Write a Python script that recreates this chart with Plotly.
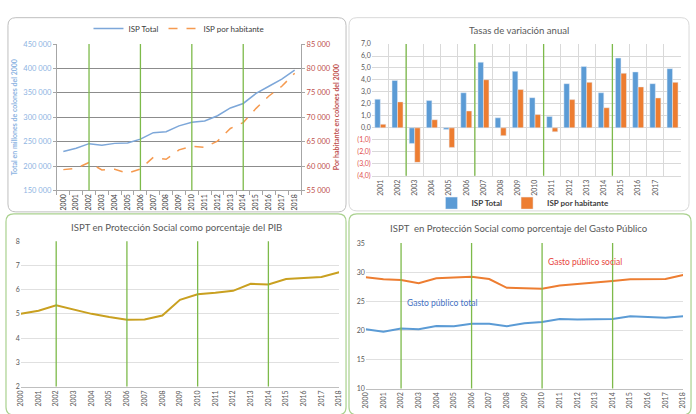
import plotly.graph_objects as go

W, H = 696, 414
FONT = "Lato"

years = list(range(2000, 2019))
isp_total = [229800, 236500, 245800, 242400, 246400, 247000, 255000, 268400, 270400,
             282300, 289600, 292300, 303000, 319000, 328200, 348800, 363500, 378100, 396700]
isp_hab = [59260, 59520, 60720, 59190, 59320, 58520, 59390, 61780, 61380, 63310,
           64040, 63840, 65100, 67700, 68900, 71820, 74350, 76350, 79000]

var_labels = ["2001", "2002", "2003", "2004", "2005", "2006", "2007", "2008", "2009",
              "2010", "2011", "2012", "2013", "2014", "2015", "2016", "2017", ""]
var_total = [2.39, 3.96, -1.30, 2.28, -0.14, 2.93, 5.48, 0.84, 4.72, 2.52, 0.95, 3.69,
             5.13, 2.93, 5.83, 4.67, 3.69, 4.94]
var_hab = [0.30, 2.17, -2.88, 0.68, -1.63, 1.41, 4.02, -0.65, 3.20, 1.11, -0.33, 2.36,
           3.80, 1.68, 4.56, 3.42, 2.50, 3.80]

pib = [5.00, 5.13, 5.35, 5.16, 5.00, 4.87, 4.76, 4.77, 4.93, 5.58, 5.81, 5.87, 5.95,
       6.24, 6.21, 6.44, 6.48, 6.52, 6.72]

gasto_social = [29.11, 28.78, 28.67, 28.11, 28.95, 29.11, 29.23, 28.83, 27.32, 27.26,
                27.15, 27.71, 27.94, 28.27, 28.50, 28.78, 28.78, 28.83, 29.51]
gasto_total = [20.20, 19.75, 20.31, 20.20, 20.76, 20.71, 21.15, 21.15, 20.71, 21.21,
               21.43, 21.94, 21.88, 21.94, 21.94, 22.44, 22.27, 22.16, 22.44]

marker_years = [2002, 2006, 2010, 2014]
marker_idx = [1.5, 5.5, 9.5, 13.5]  # boundaries after 2002, 2006, 2010, 2014 in bar chart


def px(x):
    return x / W


def py(y):
    return 1 - y / H


fig = go.Figure()

# Panel 1
fig.add_trace(go.Scatter(x=years, y=isp_total, mode="lines", name="ISP Total",
                         line=dict(color="#7DA7D9", width=1.5), xaxis="x", yaxis="y",
                         legend="legend"))
fig.add_trace(go.Scatter(x=years, y=isp_hab, mode="lines", name="ISP por habitante",
                         line=dict(color="#F59A50", width=1.5, dash="dash"), xaxis="x",
                         yaxis="y2", legend="legend"))

# Panel 2
xi = list(range(len(var_labels)))
fig.add_trace(go.Bar(x=xi, y=var_total, name="ISP Total", marker_color="#5B9BD5",
                     xaxis="x3", yaxis="y3", legend="legend2"))
fig.add_trace(go.Bar(x=xi, y=var_hab, name="ISP por habitante", marker_color="#ED7D31",
                     xaxis="x3", yaxis="y3", legend="legend2"))

# Panel 3
fig.add_trace(go.Scatter(x=years, y=pib, mode="lines", showlegend=False,
                         line=dict(color="#C9A020", width=2), xaxis="x4", yaxis="y4"))

# Panel 4
fig.add_trace(go.Scatter(x=years, y=gasto_social, mode="lines", showlegend=False,
                         line=dict(color="#ED7D31", width=2), xaxis="x5", yaxis="y5"))
fig.add_trace(go.Scatter(x=years, y=gasto_total, mode="lines", showlegend=False,
                         line=dict(color="#5B9BD5", width=2), xaxis="x5", yaxis="y5"))

tickfont = dict(family=FONT, size=7, color="#595959")

neg_red = "#E0504D"
y3_vals = list(range(-4, 8))
y3_text = []
for v in y3_vals:
    if v < 0:
        y3_text.append('<span style="color:%s">(%d,0)</span>' % (neg_red, -v))
    else:
        y3_text.append("%d,0" % v)

fig.update_layout(
    width=W, height=H, margin=dict(l=0, r=0, t=0, b=0),
    paper_bgcolor="white", plot_bgcolor="rgba(0,0,0,0)",
    font=dict(family=FONT, color="#595959"),
    barmode="group", bargap=0.36, bargroupgap=0,
    # Panel 1
    xaxis=dict(domain=[px(52.5), px(299.5)], anchor="y", range=[1999.5, 2018.5],
               tickmode="linear", tick0=2000, dtick=1, tickangle=-90,
               tickfont=dict(family=FONT, size=7, color="#404040"),
               showgrid=False, showline=True, linecolor="#A6A6A6", ticks="",
               minor=dict(tick0=1999.5, dtick=1, ticks="outside", ticklen=4,
                          tickcolor="#A6A6A6"),
               zeroline=False),
    yaxis=dict(domain=[py(190), py(40)], anchor="x", range=[150000, 450000], dtick=50000,
               tickformat=",d", showgrid=True, gridcolor="#8C8C8C", gridwidth=1,
               showline=True, linecolor="#A6A6A6", ticks="outside", ticklen=3,
               tickcolor="#A6A6A6",
               tickfont=dict(family=FONT, size=7.5, color="#8DB4E2"),
               title=dict(text="<b>Total en millones de colones del 2000</b>",
                          font=dict(family=FONT, size=7, color="#8DB4E2"), standoff=4),
               zeroline=False),
    yaxis2=dict(overlaying="y", side="right", anchor="x", range=[55000, 85000],
                dtick=5000, tickformat=",d", showgrid=False, showline=True,
                linecolor="#A6A6A6", ticks="outside", ticklen=3, tickcolor="#A6A6A6",
                tickfont=dict(family=FONT, size=7.5, color="#C0504D"),
                title=dict(text="<b>Por habitante en colones del 2000</b>",
                           font=dict(family=FONT, size=7, color="#C0504D"), standoff=4),
                zeroline=False),
    separators=", ",
    # Panel 2
    xaxis3=dict(domain=[px(371), px(684)], anchor="y3", range=[-0.5, 17.5],
                tickmode="array", tickvals=xi, ticktext=var_labels, tickangle=-90,
                tickfont=tickfont, showgrid=False, showline=True, linecolor="#D9D9D9",
                minor=dict(tick0=-0.5, dtick=1, showgrid=True, gridcolor="#D9D9D9"),
                zeroline=False),
    yaxis3=dict(domain=[py(175), py(40)], anchor="x3", range=[-4, 7],
                tickmode="array", tickvals=y3_vals, ticktext=y3_text,
                tickfont=tickfont, showgrid=True, gridcolor="#D9D9D9",
                zeroline=True, zerolinecolor="#D9D9D9", zerolinewidth=1, showline=False),
    # Panel 3
    xaxis4=dict(domain=[px(16), px(338)], anchor="y4", range=[2000, 2018],
                tickmode="linear", tick0=2000, dtick=1, tickangle=-90, tickfont=tickfont,
                showgrid=False, showline=True, linecolor="#BFBFBF", zeroline=False),
    yaxis4=dict(domain=[py(391), py(242)], anchor="x4", range=[2, 8], dtick=1,
                tickfont=tickfont, showgrid=True, gridcolor="#E0E0E0", zeroline=False,
                showline=False),
    # Panel 4
    xaxis5=dict(domain=[px(365), px(686)], anchor="y5", range=[2000, 2018],
                tickmode="linear", tick0=2000, dtick=1, tickangle=-90, tickfont=tickfont,
                showgrid=False, showline=True, linecolor="#BFBFBF", zeroline=False),
    yaxis5=dict(domain=[py(393), py(244)], anchor="x5", range=[10, 35], dtick=5,
                tickfont=tickfont, showgrid=True, gridcolor="#E0E0E0", zeroline=False,
                showline=False),
    legend=dict(orientation="h", x=px(176), xanchor="center", y=py(24), yanchor="middle",
                font=dict(family=FONT, size=8, color="#404040"), bgcolor="rgba(0,0,0,0)",
                itemwidth=30, tracegroupgap=0),
    legend2=dict(orientation="h", x=px(524), xanchor="center", y=py(203), yanchor="middle",
                 font=dict(family=FONT, size=8, color="#404040", weight="bold"),
                 bgcolor="rgba(0,0,0,0)", itemwidth=30),
)


def rounded_rect(x0, y0, x1, y1, r):
    X0, X1 = px(x0), px(x1)
    Y0, Y1 = py(y0), py(y1)
    rx, ry = r / W, r / H
    return ("M %f,%f L %f,%f Q %f,%f %f,%f L %f,%f Q %f,%f %f,%f L %f,%f Q %f,%f %f,%f "
            "L %f,%f Q %f,%f %f,%f Z" % (
                X0 + rx, Y0, X1 - rx, Y0, X1, Y0, X1, Y0 - ry, X1, Y1 + ry, X1, Y1,
                X1 - rx, Y1, X0 + rx, Y1, X0, Y1, X0, Y1 + ry, X0, Y0 - ry, X0, Y0,
                X0 + rx, Y0))


shapes = [
    dict(type="path", path=rounded_rect(3, 13, 345, 212, 8), xref="paper", yref="paper",
         line=dict(color="#BFBFBF", width=1), layer="below"),
    dict(type="path", path=rounded_rect(348, 13, 692, 211, 8), xref="paper", yref="paper",
         line=dict(color="#D9D9D9", width=1), layer="below"),
    dict(type="path", path=rounded_rect(1, 214, 345, 420, 8), xref="paper", yref="paper",
         line=dict(color="#A9D18E", width=1.2), layer="below"),
    dict(type="path", path=rounded_rect(348, 214, 694, 420, 8), xref="paper", yref="paper",
         line=dict(color="#A9D18E", width=1.2), layer="below"),
]
green = "#7DBA4A"
for yr in marker_years:
    for xa, ya in (("x", "y"), ("x4", "y4"), ("x5", "y5")):
        shapes.append(dict(type="line", xref=xa, yref=ya + " domain", x0=yr, x1=yr,
                           y0=0, y1=1, line=dict(color=green, width=1.3)))
for b in marker_idx:
    shapes.append(dict(type="line", xref="x3", yref="y3 domain", x0=b, x1=b, y0=0, y1=1,
                       line=dict(color=green, width=1.3)))
fig.update_layout(shapes=shapes)

title_font = dict(family=FONT, size=9.6, color="#595959")
annotations = [
    dict(text="Tasas de variación anual", x=px(520), y=py(26), xref="paper", yref="paper",
         xanchor="center", yanchor="middle", showarrow=False, font=title_font),
    dict(text="ISPT en Protección Social como porcentaje del PIB", x=px(173), y=py(228),
         xref="paper", yref="paper", xanchor="center", yanchor="middle", showarrow=False,
         font=title_font),
    dict(text="ISPT  en Protección Social como porcentaje del Gasto Público", x=px(520),
         y=py(229), xref="paper", yref="paper", xanchor="center", yanchor="middle",
         showarrow=False, font=title_font),
    dict(text="Gasto público social", x=2010.2, y=31.8, xref="x5", yref="y5",
         xanchor="left", yanchor="middle", showarrow=False,
         font=dict(family=FONT, size=8.5, color="#E8453C")),
    dict(text="Gasto público total", x=2002.2, y=24.7, xref="x5", yref="y5",
         xanchor="left", yanchor="middle", showarrow=False,
         font=dict(family=FONT, size=8.5, color="#4472C4")),
]
fig.update_layout(annotations=annotations)

fig.write_html("out.html")
